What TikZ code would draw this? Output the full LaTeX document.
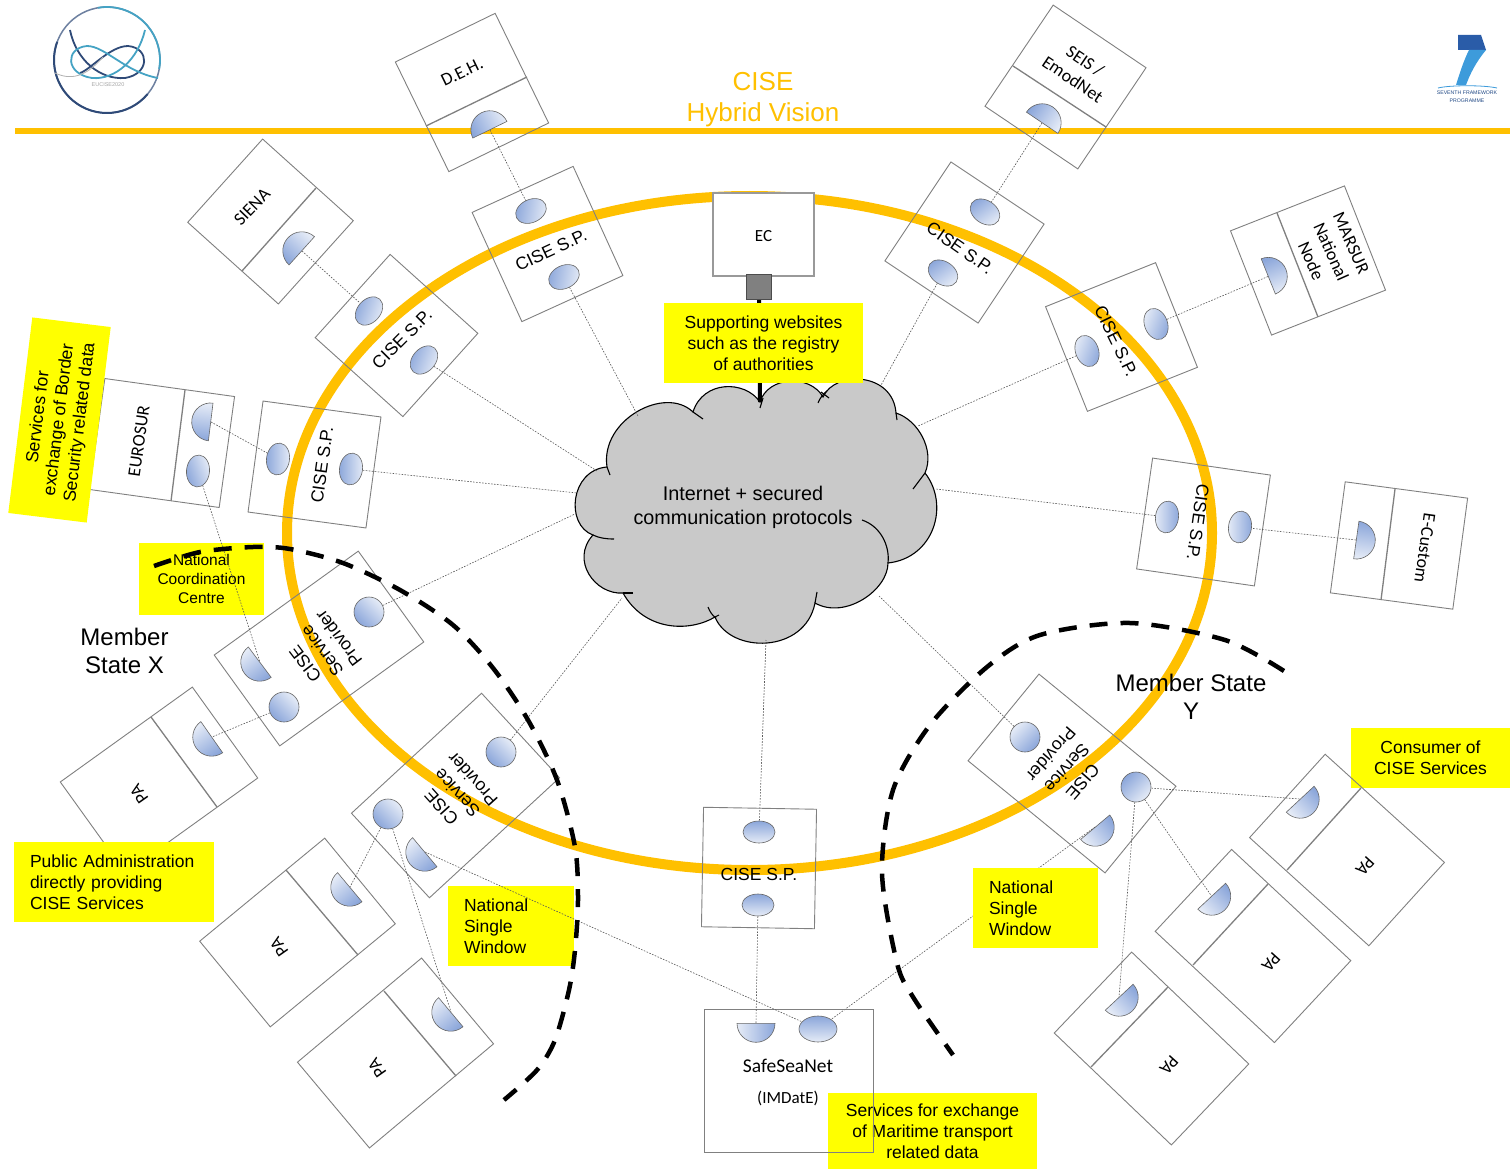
\documentclass[tikz,border=0pt]{standalone}
\usepackage{fontspec}
\setmainfont{Liberation Sans}
\newfontfamily\boxfont{Carlito}
\usetikzlibrary{shapes.geometric}
\definecolor{ringcol}{HTML}{FFC000}
\definecolor{notecol}{HTML}{FFFF00}
\definecolor{portdark}{HTML}{8BA6DA}
\definecolor{portlight}{HTML}{E6ECF7}
\definecolor{cloudcol}{HTML}{C9C9C9}
\definecolor{logodark}{HTML}{2F4A78}
\definecolor{logoteal}{HTML}{45A3C4}
\definecolor{fpdark}{HTML}{2A5CA8}
\definecolor{fpstem}{HTML}{3D9BDB}
\tikzset{sysbox/.style n args = {3}{draw=black!50, line width=0.9, minimum width=#1, minimum height=#2, rotate=#3, inner sep=0}}
\tikzset{divider/.style = {draw=black!50, line width=1.3}}
\tikzset{boxlabel/.style = {font=\boxfont\fontsize{18}{22}\selectfont, align=center, inner sep=0}}
\tikzset{splabel/.style = {font=\fontsize{17.5}{21}\selectfont, align=center, inner sep=0}}
\tikzset{port/.style n args = {4}{ellipse, draw=black!60, line width=0.6, inner sep=0, minimum width=#1, minimum height=#2, rotate=#3, top color=portdark, bottom color=portlight, shading angle={#4-90}}}
\tikzset{halfport/.style = {semicircle, draw=black!60, line width=0.6, inner sep=0, minimum width=38, anchor=chord center, rotate=#1, top color=portdark, bottom color=portlight, shading angle={#1+90}}}
\tikzset{link/.style = {draw=black!65, line width=0.6, dash pattern=on 1.6 off 1.4}}
\tikzset{note/.style = {fill=notecol, inner sep=0, font=\fontsize{17.5}{21}\selectfont, align=center}}
\tikzset{memberline/.style = {line width=4.5, dash pattern=on 18 off 13}}
\begin{document}
\begin{tikzpicture}[x=1pt,y=-1pt]
\useasboundingbox (0,0) rectangle (1510,1169);
\fill[white] (0,0) rectangle (1510,1169);

\draw[ringcol, line width=6] (15,131) -- (1510,131);
\draw[ringcol, line width=10] (749.5,533) ellipse [x radius=462.5, y radius=337];
\node[text=ringcol, font=\fontsize{26}{31}\selectfont, align=center, inner sep=0] (title) at (763,100) {CISE\\Hybrid Vision};

\draw[logodark!70, line width=1.5] (107,60) circle [radius=53];
\draw[logodark, line width=2] ([shift={(40:53)}]107,60) arc [start angle=40, end angle=200, radius=53];
\draw[logoteal, line width=1.8] ([shift={(-100:53)}]107,60) arc [start angle=-100, end angle=10, radius=53];
\draw[logodark, line width=1.8] (70,30) .. controls (76,60) and (100,80) .. (125,78) .. controls (150,74) and (150,48) .. (128,46) .. controls (110,46) and (90,70) .. (80,73);
\draw[logoteal, line width=1.8] (145,30) .. controls (138,60) and (115,80) .. (92,78) .. controls (65,74) and (65,48) .. (87,46) .. controls (105,46) and (125,72) .. (158,78);
\draw[black!30, line width=0.8] (55,73) .. controls (70,80) and (85,78) .. (103,57);
\node[text=black!35, font=\fontsize{5.5}{6}\selectfont, inner sep=0] (logotext) at (108,85) {EUCISE2020};

\fill[fpdark] (1458,35) -- (1481,35) -- (1486,50) -- (1458,50) -- cycle;
\fill[fpstem] (1469,50) -- (1486,50) .. controls (1476,62) and (1470,74) .. (1466,85) -- (1456,85) .. controls (1460,72) and (1464,60) .. (1469,50) -- cycle;
\draw[fpstem, line width=0.8] (1438,88) .. controls (1450,85) and (1484,85) .. (1497,88);
\node[text=fpdark!80!black, font=\fontsize{5.2}{8}\selectfont, align=center, inner sep=0] (fp) at (1467,97) {SEVENTH FRAMEWORK\\PROGRAMME};

\filldraw[fill=cloudcol, draw=black, line width=1.1] (693,412) .. controls (703,380) and (745,380) .. (760,402) .. controls (768,376) and (810,374) .. (823,397) .. controls (835,370) and (893,372) .. (896,413) .. controls (918,420) and (935,450) .. (925,473) .. controls (950,505) and (934,558) .. (888,563) .. controls (888,590) and (845,620) .. (815,603) .. controls (805,654) and (730,654) .. (715,617) .. controls (690,632) and (645,632) .. (623,593) .. controls (595,595) and (570,560) .. (593,535) .. controls (565,525) and (570,470) .. (607,467) .. controls (600,420) and (665,385) .. (693,412) -- cycle;
\draw[black, line width=1.1] (693,412) -- (703,419);
\draw[black, line width=1.1] (760,408) -- (763,398);
\draw[black, line width=1.1] (818,403) .. controls (820,398) and (823,394) .. (827,391);
\draw[black, line width=1.1] (829,398) -- (821,392);
\draw[black, line width=1.1] (896,413) -- (897,420);
\draw[black, line width=1.1] (925,473) -- (913,489);
\draw[black, line width=1.1] (862,520) .. controls (880,526) and (890,545) .. (888,563);
\draw[black, line width=1.1] (817,592) -- (815,603);
\draw[black, line width=1.1] (708,607) .. controls (710,612) and (712,615) .. (716,618);
\draw[black, line width=1.1] (715,617) -- (719,615);
\draw[black, line width=1.1] (633,593) -- (623,593);
\draw[black, line width=1.1] (614,539) .. controls (606,539) and (599,538) .. (593,535);
\draw[black, line width=1.1] (610,475) -- (607,467);
\node[font=\fontsize{19.8}{24}\selectfont, align=center, inner sep=0] (cloudtext) at (743,507) {Internet + secured\\communication protocols};

\node[draw=black!40, line width=1.1, fill=white, minimum width=101, minimum height=83, inner sep=0] (ecbox) at (763.5,234.5) {};
\node[inner sep=0, font=\boxfont\fontsize{17}{20}\selectfont] (eclabel) at (763.5,236) {EC};
\draw[black, line width=4] (759,290) -- (760,402);
\node[draw=black!70, fill=black!50, line width=0.8, minimum size=25, inner sep=0] (ecport) at (758.5,286.5) {};
\node[note, minimum width=199, minimum height=80] (webnote) at (763.5,343) {Supporting websites\\such as the registry\\of authorities};
\node[note, minimum width=159, minimum height=60] (consnote) at (1430.5,758) {Consumer of\\CISE Services};

\node[sysbox={111}{122}{26}] (dehbox) at (472,92.5) {};
\draw[divider] (426,126) -- (527,77);
\node[boxlabel, rotate=26] (dehlabel) at (462,72) {D.E.H.};
\node[halfport=26] (dehport) at (490,130) {};

\node[sysbox={112}{122}{-34}] (seisbox) at (1065.5,87) {};
\draw[divider] (1013,66) -- (1106,127);
\node[boxlabel, rotate=-34] (seislabel) at (1079,70) {SEIS /\\EmodNet};
\node[halfport=-34] (seisport) at (1042,123) {};

\node[sysbox={112}{122}{48}] (sienabox) at (270.5,221.5) {};
\draw[divider] (316,188) -- (242,271);
\node[boxlabel, rotate=46] (sienalabel) at (252,207) {SIENA};
\node[halfport=48] (sienaport) at (302,251) {};

\node[sysbox={131}{112}{-7.9}] (eurobox) at (162,443) {};
\draw[divider] (185,390) -- (171,501);
\node[boxlabel, rotate=82] (eurolabel) at (139,441) {EUROSUR};
\node[halfport=83] (europort) at (211,422) {};
\node[port={23}{32}{-5}{200}] (euroout) at (198,471) {};

\node[sysbox={122.5}{112}{21.5}] (marsbox) at (1308,260.5) {};
\draw[divider] (1277,213) -- (1318,317);
\node[boxlabel, rotate=-66] (marslabel) at (1331,252) {MARSUR\\National\\Node};
\node[halfport=-68] (marsport) at (1268,276.5) {};

\node[sysbox={123.5}{112}{-7.6}] (custombox) at (1399,545.5) {};
\draw[divider] (1395,489) -- (1381,600);
\node[boxlabel, rotate=-98] (customlabel) at (1425,548) {E-Custom};
\node[halfport=-98] (customport) at (1356,540) {};

\node[sysbox={111}{120}{24.5}] (spa) at (547.5,244) {};
\node[splabel, rotate=25] (spalabel) at (551,250) {CISE S.P.};
\node[port={32}{23}{25}{170}] (spain) at (531,211) {};
\node[port={32}{23}{25}{170}] (spaout) at (564,277) {};

\node[sysbox={112}{118}{48}] (spb) at (396.5,335.5) {};
\node[splabel, rotate=45] (spblabel) at (402,339) {CISE S.P.};
\node[port={32}{23}{48}{160}] (spbin) at (369,311) {};
\node[port={32}{23}{48}{160}] (spbout) at (424,360) {};

\node[sysbox={119}{112}{-7.7}] (spc) at (314.5,464.5) {};
\node[splabel, rotate=82] (spclabel) at (322,465) {CISE S.P.};
\node[port={32}{23}{82}{180}] (spcin) at (278,459) {};
\node[port={32}{23}{82}{180}] (spcout) at (351,469) {};

\node[sysbox={112}{119}{-33.7}] (spd) at (964.5,242.5) {};
\node[splabel, rotate=-35] (spdlabel) at (960,248) {CISE S.P.};
\node[port={32}{23}{-34}{125}] (spdin) at (985,212) {};
\node[port={32}{23}{-34}{125}] (spdout) at (943,273) {};

\node[sysbox={118.5}{112.7}{21.8}] (spe) at (1121.5,337) {};
\node[splabel, rotate=-64] (spelabel) at (1116,341) {CISE S.P.};
\node[port={32}{23}{-70}{-20}] (spein) at (1156,324) {};
\node[port={32}{23}{-70}{-20}] (speout) at (1087,351) {};

\node[sysbox={119}{112}{-8.2}] (spf) at (1203.5,522) {};
\node[splabel, rotate=-98] (spflabel) at (1198,522) {CISE S.P.};
\node[port={32}{23}{-98}{0}] (spfin) at (1240,527) {};
\node[port={32}{23}{-98}{0}] (spfout) at (1167,517) {};

\node[sysbox={113}{119.5}{-1}] (spg) at (759,868) {};
\node[splabel] (spglabel) at (759,874) {CISE S.P.};
\node[port={32}{22}{0}{90}] (spgin) at (759,832) {};
\node[port={32}{22}{0}{90}] (spgout) at (758,905) {};

\node[sysbox={177.6}{112}{35.8}] (natx) at (319,648.5) {};
\node[splabel, rotate=127] (natxlabel) at (322,651) {CISE\\Service\\Provider};
\node[port={30}{30}{0}{225}] (natxin) at (369,612) {};
\node[port={30}{30}{0}{225}] (natxout) at (284,707) {};
\node[halfport=127] (natxport) at (260,662) {};

\node[sysbox={177}{115}{42.7}] (naty) at (455.5,795.5) {};
\node[splabel, rotate=132] (natylabel) at (457,793) {CISE\\Service\\Provider};
\node[port={30}{30}{0}{225}] (natyin) at (501,752) {};
\node[port={30}{30}{0}{225}] (natyout) at (388,814) {};
\node[halfport=130] (natyport) at (425,852) {};

\node[sysbox={177}{112}{-39.3}] (natz) at (1072,773.5) {};
\node[splabel, rotate=229] (natzlabel) at (1067,768) {CISE\\Service\\Provider};
\node[port={30}{30}{0}{-45}] (natzin) at (1025,737) {};
\node[port={30}{30}{0}{135}] (natzout) at (1136,787) {};
\node[halfport=-140] (natzport) at (1095,827) {};

\node[sysbox={162.6}{112}{35.7}] (paa) at (159,780) {};
\draw[divider] (151,717) -- (217,807);
\node[boxlabel, rotate=125] (paalabel) at (139,794) {PA};
\node[halfport=125] (paaport) at (212,737) {};

\node[sysbox={162}{111}{39.5}] (pab) at (297.5,932.5) {};
\draw[divider] (286,870) -- (358,955);
\node[boxlabel, rotate=125] (pablabel) at (279,947) {PA};
\node[halfport=130] (pabport) at (350,887) {};

\node[sysbox={162}{112}{40}] (pac) at (395.5,1053) {};
\draw[divider] (384,991) -- (456,1076);
\node[boxlabel, rotate=125] (paclabel) at (377,1068) {PA};
\node[halfport=130] (pacport) at (451,1012) {};

\node[sysbox={161}{112.5}{-42.2}] (pad) at (1347,850) {};
\draw[divider] (1361,788) -- (1287,870);
\node[boxlabel, rotate=228] (padlabel) at (1365,866) {PA};
\node[halfport=-137] (padport) at (1300,799) {};

\node[sysbox={163}{112}{-43}] (pae) at (1253,946) {};
\draw[divider] (1268,884) -- (1193,965);
\node[boxlabel, rotate=228] (paelabel) at (1271,962) {PA};
\node[halfport=-137] (paeport) at (1211.5,896) {};

\node[sysbox={162}{112}{-43.7}] (paf) at (1151.5,1048.5) {};
\draw[divider] (1168,987) -- (1091,1067);
\node[boxlabel, rotate=228] (paflabel) at (1169,1065) {PA};
\node[halfport=-137] (pafport) at (1119,997) {};

\node[port={38}{26}{0}{90}] (ssnout) at (818,1029) {};
\node[halfport=180] (ssnport) at (756,1023) {};
\draw[link] (natzport.chord center) -- (ssnout);

\node[note, rotate=83, minimum width=197, minimum height=79] (bordernote) at (59.5,420) {Services for\\exchange of Border\\Security related data};
\node[note, font=\fontsize{15.5}{19}\selectfont, minimum width=125, minimum height=72] (ncnote) at (201.5,579) {National\\Coordination\\Centre};
\node[note, align=left, text width=168, minimum width=200, minimum height=80] (panote) at (114,882) {Public Administration\\directly providing\\CISE Services};
\node[note, align=left, text width=94, minimum width=126, minimum height=80] (nswx) at (511,926) {National\\Single\\Window};
\node[note, align=left, text width=93, minimum width=125, minimum height=80] (nswy) at (1035.5,908) {National\\Single\\Window};
\node[note, minimum width=209, minimum height=77] (ssnnote) at (932.5,1131) {Services for exchange\\of Maritime transport\\related data};
\node[sysbox={169}{143}{0}] (ssnbox) at (788.5,1080.5) {};
\node[inner sep=0, font=\boxfont\fontsize{19.5}{24}\selectfont] (ssnlabel) at (788,1066) {SafeSeaNet};
\node[inner sep=0, font=\boxfont\fontsize{17}{20}\selectfont] (ssnlabelb) at (788,1098) {(IMDatE)};

\coordinate (cloudnw) at (638,416);
\coordinate (cloudw) at (597,471);
\coordinate (cloudwa) at (577,493);
\coordinate (cloudwb) at (577,513);
\coordinate (cloudsw) at (622,598);
\coordinate (clouds) at (766,640);
\coordinate (cloudse) at (879,596);
\coordinate (cloude) at (936,489);
\coordinate (cloudne) at (918,426);
\coordinate (cloudn) at (880,387);

\draw[link] (dehport.chord center) -- (spain);
\draw[link] (seisport.chord center) -- (spdin);
\draw[link] (sienaport.chord center) -- (spbin);
\draw[link] (europort.chord center) -- (spcin);
\draw[link] (marsport.chord center) -- (spein);
\draw[link] (customport.chord center) -- (spfin);
\draw[link] (euroout) -- (natxport.chord center);
\draw[link] (spaout) -- (cloudnw);
\draw[link] (spbout) -- (cloudw);
\draw[link] (spcout) -- (cloudwa);
\draw[link] (natxin) -- (cloudwb);
\draw[link] (natyin) -- (cloudsw);
\draw[link] (spgin) -- (clouds);
\draw[link] (natzin) -- (cloudse);
\draw[link] (spfout) -- (cloude);
\draw[link] (speout) -- (cloudne);
\draw[link] (spdout) -- (cloudn);
\draw[link] (natxout) -- (paaport.chord center);
\draw[link] (natyout) -- (pabport.chord center);
\draw[link] (natyout) -- (pacport.chord center);
\draw[link] (natzout) -- (padport.chord center);
\draw[link] (natzout) -- (paeport.chord center);
\draw[link] (natzout) -- (pafport.chord center);
\draw[link] (spgout) -- (ssnport.chord center);
\draw[link] (natyport.chord center) -- (ssnout);

\draw[memberline] plot[smooth] coordinates {(154,566) (200,552) (253,547) (290,549) (343,563) (400,590) (453,625) (493,668) (528,720) (557,780) (575,847) (578,900) (575,950) (569,990) (555,1040) (537,1070) (504,1100)};
\draw[memberline] plot[smooth] coordinates {(1284,671) (1225,640) (1130,623) (1040,635) (987,667) (930,725) (893,790) (882,873) (897,963) (913,997) (953,1055)};
\node[font=\fontsize{24}{28}\selectfont, align=center, inner sep=0] (statex) at (124.5,650.5) {Member\\State X};
\node[font=\fontsize{24}{28}\selectfont, align=center, inner sep=0] (statey) at (1191,697) {Member State\\Y};
\end{tikzpicture}
\end{document}
